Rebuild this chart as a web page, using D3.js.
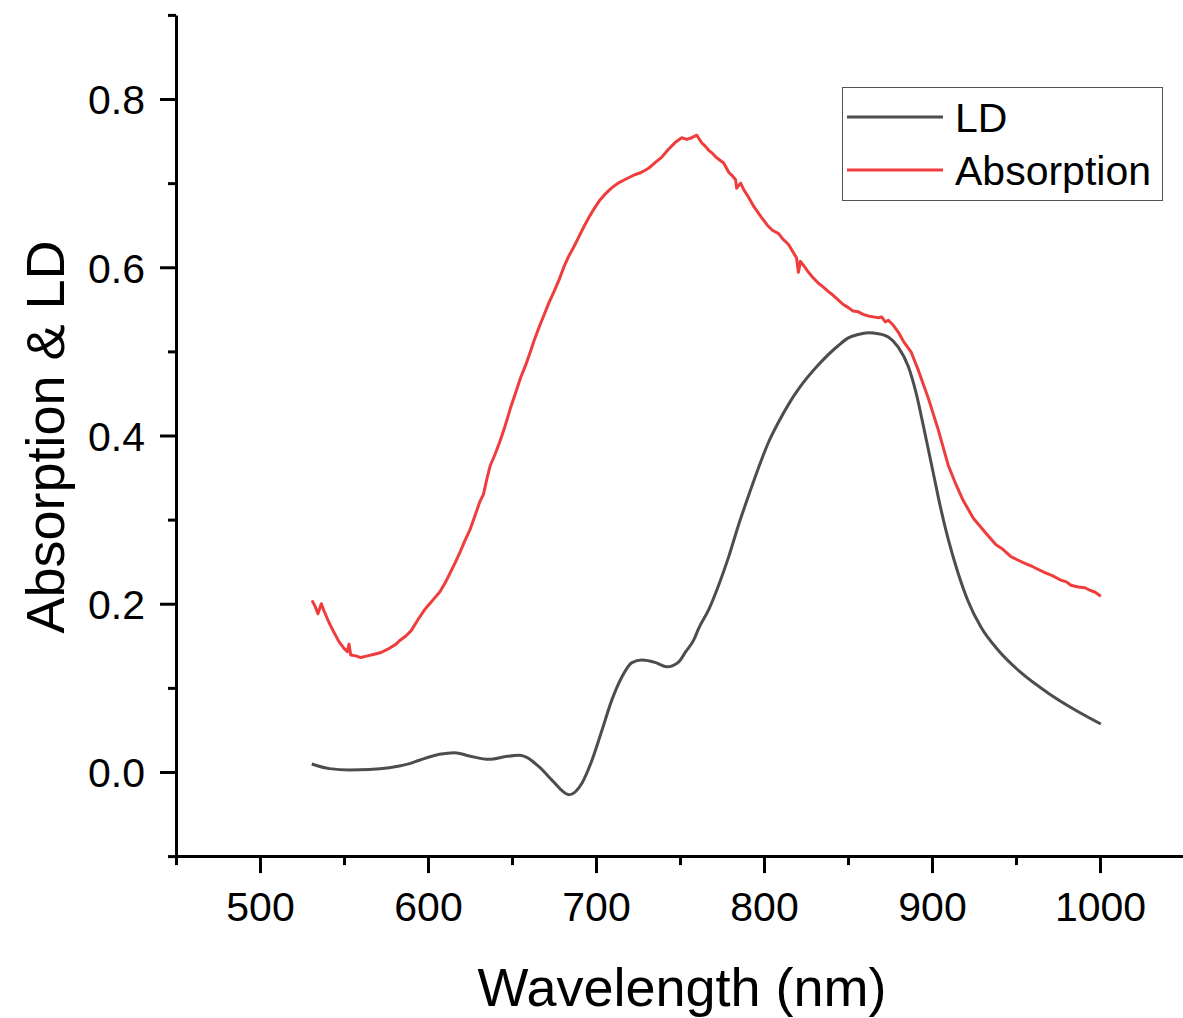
<!DOCTYPE html>
<html>
<head>
<meta charset="utf-8">
<script src="https://cdn.jsdelivr.net/npm/d3@7"></script>
<style>
  html, body { margin: 0; padding: 0; background: #fff; }
  text { font-family: "Liberation Sans", Arial, sans-serif; fill: #000; }
</style>
</head>
<body>
<svg id="chart" width="1183" height="1018"></svg>
<script>
// ---- Data ----
const xMajorTicks = [500, 600, 700, 800, 900, 1000];
const xMinorTicks = [450, 550, 650, 750, 850, 950, 1050];
const yMajorTicks = [0.0, 0.2, 0.4, 0.6, 0.8];
const yMinorTicks = [-0.1, 0.1, 0.3, 0.5, 0.7, 0.9];
const seriesNames = ["LD", "Absorption"];

const ldWavelength = [530.8, 541.4, 553.3, 565, 577, 583.0, 589, 594.9, 606.8, 615.7, 624.6, 636.5, 645.4, 654.3,
  666.2, 673.9, 684.0, 691.7, 697.6, 703.6, 709.5, 715.4, 721.4, 727.3, 735.6, 742.2, 749.3, 753.4,
  758.2, 761.2, 767.1, 773.0, 779.0, 784.9, 790.9, 796.8, 802.7, 808.7, 814.6, 820.5, 832.4, 844.3,
  850.2, 856.0, 862.1, 868.0, 874.0, 879.9, 885.9, 890.6, 894.8, 900.7, 904.9, 909.6, 915.6, 921.5, 929.2,
  939.3, 953.0, 969.0, 985.0, 1000.5];
const ldValue = [0.0095, 0.004, 0.0025, 0.003, 0.005, 0.007, 0.010, 0.014, 0.021, 0.023, 0.019, 0.015, 0.018, 0.020,
  0.006, -0.010, -0.027, -0.013, 0.014, 0.050, 0.086, 0.113, 0.130, 0.133, 0.130, 0.125, 0.131, 0.143,
  0.157, 0.171, 0.193, 0.222, 0.256, 0.294, 0.329, 0.362, 0.392, 0.416, 0.437, 0.455, 0.484, 0.507,
  0.516, 0.520, 0.522, 0.521, 0.517, 0.505, 0.482, 0.450, 0.412, 0.356, 0.316, 0.277, 0.236, 0.203, 0.172,
  0.145, 0.118, 0.094, 0.074, 0.057];

const absWavelength = [531, 533, 534.5, 536.5, 538, 541, 544, 547, 550, 552, 553, 554, 557, 560, 564,
  568, 572, 577, 581, 583, 587, 590, 594, 598, 601, 604, 607, 610, 613, 616, 619, 622, 625, 628, 631,
  633, 635, 637, 640, 643, 646, 649, 652, 655, 658, 661, 663, 666, 669, 672, 675, 678, 681, 684, 687,
  690, 693, 696, 699, 702, 705, 708, 711, 714, 717, 720, 723, 726, 729, 731.5, 735, 739.2, 743, 747.5,
  751.1, 754, 757, 760, 762.9, 765, 767.1, 769, 771.3, 774, 776, 779, 781, 783.1, 783.7, 786.1, 788,
  790.9, 794, 798.6, 802, 805, 808.7, 811, 814.6, 817, 819.4, 820.5, 821.7, 824, 826.5, 829, 832.4,
  835, 838.4, 841, 844.3, 847, 850.2, 853, 856.2, 859, 862.1, 865, 868.1, 870, 872.2, 874, 877, 879.9,
  883, 887.6, 891.8, 897.7, 903.7, 909.6, 914, 918.5, 924.5, 931.6, 938.1, 942, 947, 951, 955.3, 960,
  963, 967.2, 972, 976.7, 980, 982.7, 987, 991, 994, 996.9, 1000.5];
const absValue = [0.204, 0.196, 0.188, 0.200, 0.192, 0.178, 0.166, 0.155, 0.147, 0.143, 0.152, 0.139,
  0.138, 0.136, 0.138, 0.140, 0.142, 0.147, 0.152, 0.156, 0.162, 0.168, 0.181, 0.193, 0.200, 0.207,
  0.214, 0.224, 0.236, 0.248, 0.261, 0.275, 0.288, 0.305, 0.322, 0.330, 0.348, 0.364, 0.378, 0.394,
  0.412, 0.432, 0.450, 0.468, 0.483, 0.500, 0.512, 0.528, 0.543, 0.558, 0.571, 0.585, 0.601, 0.614,
  0.625, 0.637, 0.649, 0.660, 0.670, 0.679, 0.686, 0.692, 0.697, 0.701, 0.704, 0.707, 0.710, 0.712,
  0.715, 0.718, 0.724, 0.731, 0.740, 0.749, 0.754, 0.752, 0.754, 0.757, 0.748, 0.744, 0.739, 0.736,
  0.731, 0.727, 0.724, 0.713, 0.709, 0.704, 0.694, 0.700, 0.692, 0.683, 0.672, 0.659, 0.650, 0.644,
  0.640, 0.634, 0.627, 0.619, 0.611, 0.594, 0.607, 0.601, 0.594, 0.588, 0.581, 0.577, 0.571, 0.567,
  0.561, 0.556, 0.552, 0.548, 0.547, 0.544, 0.542, 0.541, 0.540, 0.541, 0.535, 0.537, 0.531, 0.523,
  0.512, 0.499, 0.478, 0.445, 0.407, 0.365, 0.343, 0.323, 0.302, 0.285, 0.270, 0.265, 0.256, 0.252,
  0.248, 0.244, 0.241, 0.237, 0.233, 0.228, 0.226, 0.222, 0.220, 0.219, 0.216, 0.214, 0.209];

const colors = { LD: "#4d4d4d", Absorption: "#ef3d3d" };

// ---- Layout ----
const svg = d3.select("#chart");
const x = d3.scaleLinear().domain([450, 1050]).range([176, 1184]);
const y = d3.scaleLinear().domain([-0.1, 0.9]).range([856.1, 14.9]);

const ldData = ldWavelength.map((w, i) => ({ w, v: ldValue[i] }));
const absData = absWavelength.map((w, i) => ({ w, v: absValue[i] }));

const lineSmooth = d3.line().x(d => x(d.w)).y(d => y(d.v)).curve(d3.curveMonotoneX);
const lineRaw = d3.line().x(d => x(d.w)).y(d => y(d.v)).curve(d3.curveLinear);

// Curves
svg.append("path").datum(absData)
  .attr("d", lineRaw).attr("fill", "none")
  .attr("stroke", colors.Absorption).attr("stroke-width", 3).attr("stroke-linejoin", "round");
svg.append("path").datum(ldData)
  .attr("d", lineSmooth).attr("fill", "none")
  .attr("stroke", colors.LD).attr("stroke-width", 3).attr("stroke-linejoin", "round");

// X axis
const gx = svg.append("g").attr("transform", `translate(0,${y(-0.1)})`);
gx.call(d3.axisBottom(x).tickValues(xMinorTicks).tickSize(9).tickSizeOuter(0).tickFormat(""));
gx.select(".domain").remove();
const gx2 = svg.append("g").attr("transform", `translate(0,${y(-0.1)})`);
gx2.call(d3.axisBottom(x).tickValues(xMajorTicks).tickSize(17).tickSizeOuter(0)
  .tickPadding(19).tickFormat(d3.format("d")));
gx2.selectAll("text").style("font-size", "41px");

// Y axis
const gy = svg.append("g").attr("transform", `translate(${x(450)},0)`);
gy.call(d3.axisLeft(y).tickValues(yMinorTicks).tickSize(8).tickSizeOuter(0).tickFormat(""));
gy.select(".domain").remove();
const gy2 = svg.append("g").attr("transform", `translate(${x(450)},0)`);
gy2.call(d3.axisLeft(y).tickValues(yMajorTicks).tickSize(16).tickSizeOuter(0)
  .tickPadding(15).tickFormat(d3.format(".1f")));
gy2.selectAll("text").style("font-size", "41px").attr("dy", "0.36em");

svg.selectAll(".domain, .tick line").attr("stroke", "#000").attr("stroke-width", 3);
svg.selectAll(".tick text").style("font-family", '"Liberation Sans", Arial, sans-serif').attr("fill", "#000");

// Axis titles
svg.append("text").attr("x", 682).attr("y", 1006).attr("text-anchor", "middle")
  .style("font-size", "54px").text("Wavelength (nm)");
svg.append("text").attr("transform", "translate(64,437) rotate(-90)").attr("text-anchor", "middle")
  .style("font-size", "54px").text("Absorption & LD");

// Legend
const lg = svg.append("g");
lg.append("rect").attr("x", 842.5).attr("y", 87.5).attr("width", 320).attr("height", 113)
  .attr("fill", "#fff").attr("stroke", "#555").attr("stroke-width", 1);
seriesNames.forEach((name, i) => {
  const yy = 117 + i * 53;
  lg.append("line").attr("x1", 847).attr("x2", 943).attr("y1", yy).attr("y2", yy)
    .attr("stroke", colors[name]).attr("stroke-width", 3);
  lg.append("text").attr("x", 955).attr("y", yy + 15).style("font-size", "41px").text(name);
});
</script>
</body>
</html>
